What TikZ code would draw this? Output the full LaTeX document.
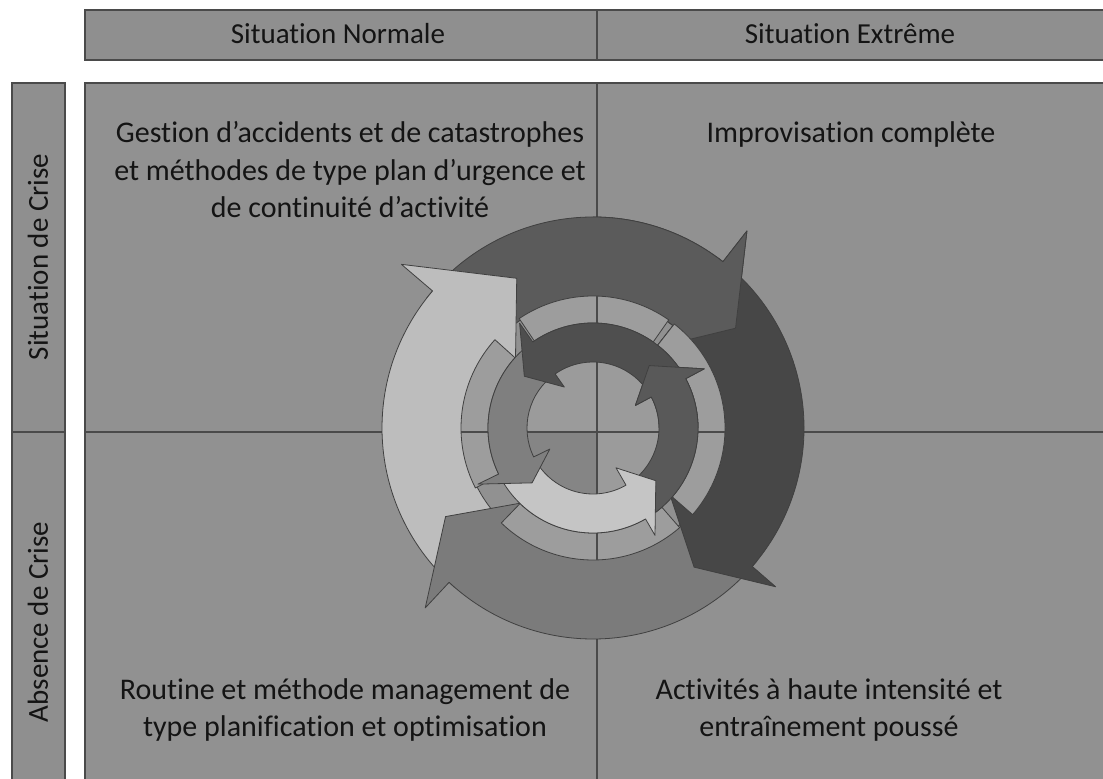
\documentclass[tikz,border=0pt]{standalone}
\usepackage{fontspec}
\setmainfont{Carlito}[Ligatures=NoCommon]
\definecolor{panel}{HTML}{919191}
\definecolor{hdr}{HTML}{8F8F8F}
\definecolor{bord}{HTML}{4A4A4A}
\definecolor{aTop}{HTML}{5B5B5B}
\definecolor{aRight}{HTML}{474747}
\definecolor{aBottom}{HTML}{7B7B7B}
\definecolor{aLeft}{HTML}{BDBDBD}
\definecolor{midring}{HTML}{9D9D9D}
\definecolor{iTop}{HTML}{4F4F4F}
\definecolor{iRight}{HTML}{595959}
\definecolor{iBottom}{HTML}{C5C5C5}
\definecolor{iLeft}{HTML}{7F7F7F}
\definecolor{centre}{HTML}{9B9B9B}
\definecolor{centreLL}{HTML}{858585}
\definecolor{txt}{HTML}{141414}
% #1 fill, #2 tail angle, #3 head-base angle, #4 tip angle,
% #5 inner r, #6 outer r, #7 inner barb r, #8 outer barb r, #9 tip r
\newcommand\ringarrow[9]{%
  \filldraw[fill=#1, arrowedge] (#2:#6) arc[start angle=#2, end angle=#3, radius=#6]
    -- (#3:#8) -- (#4:#9) -- (#3:#7) -- (#3:#5)
    arc[start angle=#3, end angle=#2, radius=#5] -- cycle;}
\newcommand\ringseg[2]{%
  \filldraw[fill=midring, arrowedge] (#1:132pt) arc[start angle=#1, end angle=#2, radius=132pt]
    -- (#2:105pt) arc[start angle=#2, end angle=#1, radius=105pt] -- cycle;}
\begin{document}
\begin{tikzpicture}[x=1pt,y=1pt,
  arrowedge/.style={draw=black!75, line width=0.8pt, line join=round},
  barbox/.style={fill=hdr, draw=bord, line width=1.5pt},
  divline/.style={draw=bord, line width=1.3pt},
  qtext/.style={font=\fontsize{30}{37.5}\selectfont, align=center, text=txt, inner sep=0pt},
  htext/.style={font=\fontsize{29}{35}\selectfont, text=txt, inner sep=0pt}]
\useasboundingbox (0,0) rectangle (1103,779);
\clip (0,0) rectangle (1103,779);
\fill[white] (0,0) rectangle (1103,779);
% header bar
\draw[barbox] (85,719) rectangle (1120,769);
\draw[divline] (597,719) -- (597,769);
% left bar
\draw[barbox] (12,-20) rectangle (65,696);
\draw[divline] (12,347) -- (65,347);
% main panel
\draw[barbox, fill=panel] (85,-20) rectangle (1120,696);
\coordinate (ctop) at (597,696);
\coordinate (cbot) at (597,-20);
\coordinate (cleft) at (85,347);
\coordinate (cright) at (1120,347);
\draw[divline] (ctop) -- (cbot);
\draw[divline] (cleft) -- (cright);
% labels
\node[htext] (hn) at (338,745) {Situation Normale};
\node[htext] (he) at (850,745) {Situation Extrême};
\node[htext, rotate=90] (vc) at (38,522) {Situation de Crise};
\node[htext, rotate=90] (va) at (38,157) {Absence de Crise};
\node[qtext] (ul) at (350,609) {Gestion d’accidents et de catastrophes\\et méthodes de type plan d’urgence et\\de continuité d’activité};
\node[qtext] (ur) at (851,644) {Improvisation complète};
\node[qtext] (ll) at (345,69) {Routine et méthode management de\\type planification et optimisation};
\node[qtext] (lr) at (829,69) {Activités à haute intensité et\\entraînement poussé};
% cycle
\begin{scope}[shift={(593,351)}]
  % outer ring, clockwise
  \ringarrow{aTop}{142}{52}{35}{130pt}{211pt}{102pt}{250pt}{174pt}
  \ringarrow{aLeft}{229}{139.5}{117}{130pt}{211pt}{102pt}{252pt}{168pt}
  \ringarrow{aBottom}{321}{227}{211}{130pt}{211pt}{102pt}{246pt}{172pt}
  \ringarrow{aRight}{54}{-41}{-54}{130pt}{211pt}{102pt}{242pt}{172pt}
  \begin{scope}
    \clip (0,-300) rectangle (300,300);
    \ringarrow{aTop}{142}{52}{35}{130pt}{211pt}{102pt}{250pt}{174pt}
  \end{scope}
  % middle ring
  \ringseg{55}{124}
  \ringseg{138}{207}
  \ringseg{226}{311}
  \ringseg{319}{412}
  % centre disc
  \fill[centre] (0,0) circle[radius=80pt];
  \begin{scope}
    \clip (0,0) circle[radius=80pt];
    \fill[centreLL] (-100,-100) rectangle (4,-4);
  \end{scope}
  % cross lines over middle ring and centre
  \begin{scope}
    \clip (0,0) circle[radius=132pt];
    \draw[divline] (ctop) -- (cbot);
    \draw[divline] (cleft) -- (cright);
  \end{scope}
  % inner ring, counter-clockwise
  \ringarrow{iRight}{300}{388}{408}{66pt}{105pt}{48pt}{126pt}{84pt}
  \ringarrow{iBottom}{206}{300}{320}{66pt}{105pt}{46pt}{124pt}{82pt}
  \ringarrow{iLeft}{125}{206}{222}{66pt}{105pt}{48pt}{128pt}{82pt}
  \ringarrow{iTop}{28}{125}{143}{66pt}{105pt}{50pt}{128pt}{86pt}
  \begin{scope}
    \clip (-300,0) rectangle (300,300);
    \ringarrow{iRight}{300}{388}{408}{66pt}{105pt}{48pt}{126pt}{84pt}
  \end{scope}
\end{scope}
\end{tikzpicture}
\end{document}
